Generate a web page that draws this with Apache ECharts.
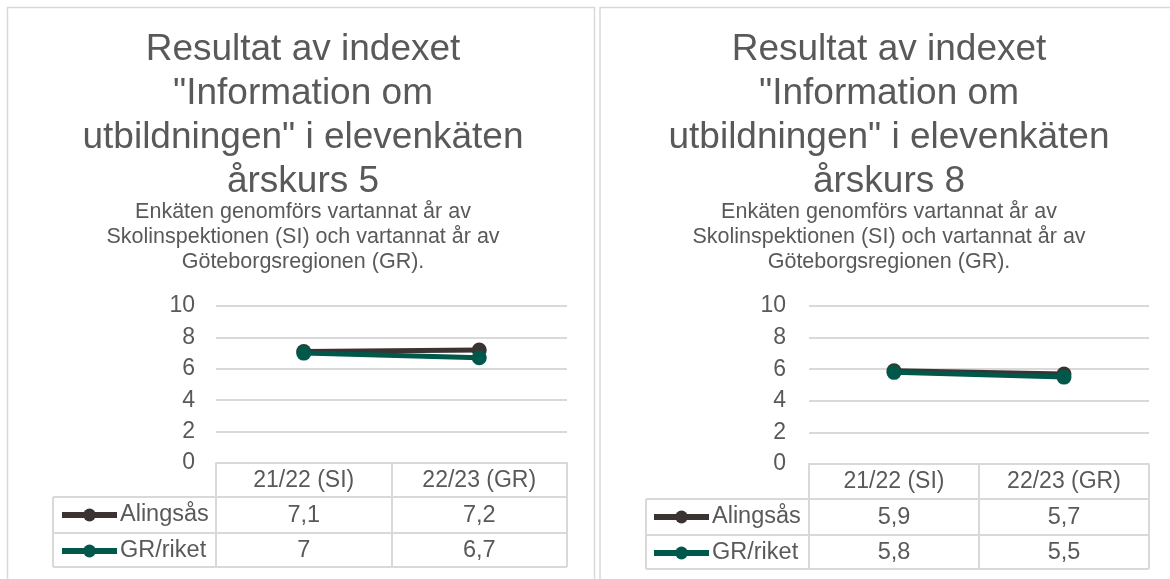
<!DOCTYPE html>
<html>
<head>
<meta charset="utf-8">
<script src="https://cdn.jsdelivr.net/npm/echarts@6/dist/echarts.min.js"></script>
<style>
html,body{margin:0;padding:0;background:#fff;}
#c{width:1170px;height:579px;}
</style>
</head>
<body>
<div id="c"></div>
<script>
// ---- data ----
const categories = ['21/22 (SI)', '22/23 (GR)'];
const seriesNames = ['Alingsås', 'GR/riket'];
const alingsasAk5 = [7.1, 7.2];
const grRiketAk5 = [7, 6.7];
const alingsasAk8 = [5.9, 5.7];
const grRiketAk8 = [5.8, 5.5];
const yMin = 0, yMax = 10, yInterval = 2;
const titleAk5 = 'Resultat av indexet\n"Information om\nutbildningen" i elevenkäten\nårskurs 5';
const titleAk8 = 'Resultat av indexet\n"Information om\nutbildningen" i elevenkäten\nårskurs 8';
const subtitleText = 'Enkäten genomförs vartannat år av\nSkolinspektionen (SI) och vartannat år av\nGöteborgsregionen (GR).';

// ---- styles / layout ----
const FONT = '"Liberation Sans", Arial, sans-serif';
const TXT = '#595959';
const GRID = '#d9d9d9';
const COLORS = ['#3b3331', '#00584a'];

const panels = [
  { data: [alingsasAk5, grRiketAk5], title: titleAk5, cx: 303, plotL: 216, plotR: 567, plotT: 306, axisY: 463, rowLines: [497, 533, 567], tableL: 53, legendL: 59, labelMargin: 21 },
  { data: [alingsasAk8, grRiketAk8], title: titleAk8, cx: 889, plotL: 809, plotR: 1149, plotT: 306, axisY: 464, rowLines: [499, 535, 569], tableL: 646, legendL: 651, labelMargin: 23 }
];

const chart = echarts.init(document.getElementById('c'), null, { renderer: 'canvas' });

const option = {
  animation: false,
  backgroundColor: '#fff',
  title: [],
  legend: [],
  grid: [],
  xAxis: [],
  yAxis: [],
  series: []
};

panels.forEach((p, i) => {
  option.title.push({
    text: p.title, left: p.cx, top: 28, textAlign: 'center', padding: 0,
    textStyle: { fontFamily: FONT, fontSize: 37, fontWeight: 'normal', color: TXT, lineHeight: 44 }
  });
  option.title.push({
    text: subtitleText, left: p.cx, top: 200, textAlign: 'center', padding: 0,
    textStyle: { fontFamily: FONT, fontSize: 21.5, fontWeight: 'normal', color: TXT, lineHeight: 25 }
  });
  option.grid.push({ left: p.plotL, top: p.plotT, width: p.plotR - p.plotL, height: p.axisY - p.plotT, containLabel: false });
  option.xAxis.push({
    type: 'category', gridIndex: i, data: categories, boundaryGap: true,
    axisLine: { show: true, lineStyle: { color: GRID, width: 2 } },
    axisTick: { show: true, interval: 0, length: p.rowLines[2] - p.axisY, lineStyle: { color: GRID, width: 2 } },
    axisLabel: { interval: 0, margin: 6, fontFamily: FONT, fontSize: 23, lineHeight: 24, color: TXT }
  });
  option.yAxis.push({
    type: 'value', gridIndex: i, min: yMin, max: yMax, interval: yInterval,
    axisLine: { show: false }, axisTick: { show: false },
    axisLabel: { margin: p.labelMargin, fontFamily: FONT, fontSize: 23, color: TXT },
    splitLine: { show: true, lineStyle: { color: GRID, width: 2 } }
  });
  seriesNames.forEach((name, k) => {
    option.series.push({
      type: 'line', name: name, xAxisIndex: i, yAxisIndex: i, data: p.data[k],
      symbol: 'circle', symbolSize: 15, z: 3 + k,
      lineStyle: { color: COLORS[k], width: 5 },
      itemStyle: { color: COLORS[k] }
    });
  });
  const rowH = p.rowLines[1] - p.rowLines[0];
  option.legend.push({
    data: seriesNames, orient: 'vertical', left: p.legendL,
    top: p.rowLines[0] + rowH / 2 - 12, padding: 0, itemGap: rowH - 24,
    itemWidth: 55, itemHeight: 16, itemGap: rowH - 24, selectedMode: false,
    lineStyle: { width: 6 },
    textStyle: { fontFamily: FONT, fontSize: 23.5, lineHeight: 24, color: TXT, padding: [0, 0, 0, -2] }
  });
});

chart.setOption(option);

// ---- table and panel frames ----
const graphics = [];
graphics.push({ type: 'rect', shape: { x: 7.5, y: 7.5, width: 587, height: 620 }, style: { fill: 'none', stroke: GRID, lineWidth: 1.5 }, z: 0, silent: true });
graphics.push({ type: 'rect', shape: { x: 600, y: 7.5, width: 620, height: 620 }, style: { fill: 'none', stroke: GRID, lineWidth: 1.5 }, z: 0, silent: true });

panels.forEach((p, i) => {
  p.rowLines.forEach(y => {
    graphics.push({ type: 'line', shape: { x1: p.tableL, y1: y, x2: p.plotR, y2: y }, style: { stroke: GRID, lineWidth: 2 }, silent: true });
  });
  graphics.push({ type: 'line', shape: { x1: p.tableL, y1: p.rowLines[0], x2: p.tableL, y2: p.rowLines[2] }, style: { stroke: GRID, lineWidth: 2 }, silent: true });
  seriesNames.forEach((name, k) => {
    const yc = (p.rowLines[k] + p.rowLines[k + 1]) / 2 + 1;
    p.data[k].forEach((v, j) => {
      const x = chart.convertToPixel({ xAxisIndex: i }, j);
      graphics.push({
        type: 'text', x: x, y: yc, silent: true,
        style: { text: String(v).replace('.', ','), fontFamily: FONT, fontSize: 23.5, fill: TXT, align: 'center', verticalAlign: 'middle' }
      });
    });
  });
});

chart.setOption({ graphic: graphics });
</script>
</body>
</html>
